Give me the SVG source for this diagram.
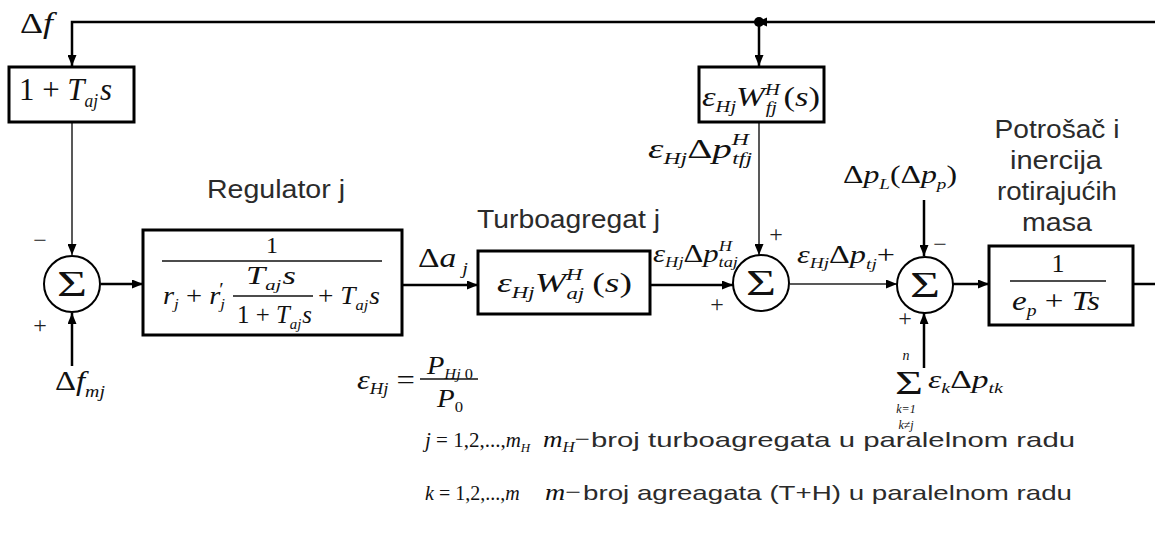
<svg xmlns="http://www.w3.org/2000/svg" width="1155" height="538" viewBox="0 0 1155 538">
<style>
.sans{font-family:"Liberation Sans",Arial,sans-serif;fill:#2b2b2b}
.m{font-family:"Liberation Serif","Times New Roman",serif;fill:#111}
.i{font-style:italic}
.box{fill:#fff;stroke:#000;stroke-width:3}
.sum{fill:#fff;stroke:#000;stroke-width:2}
.ln{stroke:#000;stroke-width:2.5;fill:none}
.th{stroke:#222;stroke-width:1.5;fill:none}
.fr{stroke:#111;stroke-width:1.4}
.sg{font-family:"Liberation Serif","Times New Roman",serif;fill:#222;font-size:24px;text-anchor:middle}
</style>
<defs>
<marker id="ar" markerUnits="userSpaceOnUse" markerWidth="11" markerHeight="9" refX="11" refY="4.5" orient="auto">
<path d="M0,0 L11,4.5 L0,9 z" fill="#000"/>
</marker>
</defs>
<rect width="1155" height="538" fill="#fff"/>

<g id="connectors">
<polyline class="ln" points="1155,22 72,22 72,66" marker-end="url(#ar)"/>
<line class="ln" x1="759" y1="22" x2="759" y2="66" marker-end="url(#ar)"/>
<circle cx="759" cy="22" r="5" fill="#000"/>
<path d="M757,22 L767,17.5 L767,26.5 z" fill="#000"/>
<line class="th" x1="72" y1="122" x2="72" y2="255" marker-end="url(#ar)"/>
<line class="ln" x1="72" y1="366" x2="72" y2="313" marker-end="url(#ar)"/>
<line class="ln" x1="101" y1="284" x2="143" y2="284" marker-end="url(#ar)"/>
<line class="ln" x1="402" y1="285" x2="478" y2="285" marker-end="url(#ar)"/>
<line class="ln" x1="650" y1="285" x2="733" y2="285" marker-end="url(#ar)"/>
<line class="th" x1="759" y1="122" x2="759" y2="255" marker-end="url(#ar)"/>
<line class="th" x1="790" y1="284" x2="897" y2="284" marker-end="url(#ar)"/>
<line class="ln" x1="924" y1="200" x2="924" y2="256" marker-end="url(#ar)"/>
<line class="ln" x1="924" y1="368" x2="924" y2="313" marker-end="url(#ar)"/>
<line class="ln" x1="953" y1="284" x2="989" y2="284" marker-end="url(#ar)"/>
<line class="ln" x1="1133" y1="284" x2="1155" y2="284"/>
</g>

<g id="label-df">
<text class="m" x="20" y="33" font-size="30" textLength="33" lengthAdjust="spacingAndGlyphs">Δ<tspan class="i">f</tspan></text>
</g>

<g id="node-derivative">
<rect class="box" x="9" y="67" width="125" height="55"/>
<text class="m" x="19" y="100" font-size="32" textLength="93" lengthAdjust="spacingAndGlyphs">1 + <tspan class="i">T</tspan><tspan class="i" font-size="18" dy="7">aj</tspan><tspan class="i" dy="-7" dx="2">s</tspan></text>
</g>

<g id="node-sum1">
<circle class="sum" cx="72" cy="284" r="28"/>
<text class="m" x="57" y="296" font-size="36" textLength="30" lengthAdjust="spacingAndGlyphs">Σ</text>
<text class="sg" x="40" y="248">−</text>
<text class="sg" x="40" y="333">+</text>
<text class="m" x="55" y="390" font-size="28" textLength="50" lengthAdjust="spacingAndGlyphs">Δ<tspan class="i">f</tspan><tspan class="i" font-size="17" dy="7">mj</tspan></text>
</g>

<g id="node-regulator">
<text class="sans" x="207" y="198" font-size="25" textLength="138" lengthAdjust="spacingAndGlyphs">Regulator j</text>
<rect class="box" x="143" y="230" width="259" height="105"/>
<text class="m" x="272" y="253" font-size="24" text-anchor="middle">1</text>
<line class="fr" x1="162" y1="261" x2="382" y2="261"/>
<text class="m" x="163" y="304" font-size="25" textLength="62" lengthAdjust="spacingAndGlyphs"><tspan class="i">r</tspan><tspan class="i" font-size="15" dy="5">j</tspan><tspan dy="-5"> + </tspan><tspan class="i">r</tspan><tspan class="i" font-size="15" dy="5">j</tspan><tspan font-size="18" dx="-5" dy="-13">′</tspan></text>
<text class="m" x="246" y="284" font-size="25" textLength="50" lengthAdjust="spacingAndGlyphs"><tspan class="i">T</tspan><tspan class="i" font-size="15" dy="6">aj</tspan><tspan class="i" dy="-6" dx="1">s</tspan></text>
<line class="fr" x1="233" y1="296" x2="313" y2="296"/>
<text class="m" x="237" y="323" font-size="25" textLength="75" lengthAdjust="spacingAndGlyphs">1 + <tspan class="i">T</tspan><tspan class="i" font-size="15" dy="6">aj</tspan><tspan class="i" dy="-6" dx="1">s</tspan></text>
<text class="m" x="318" y="304" font-size="25" textLength="62" lengthAdjust="spacingAndGlyphs">+ <tspan class="i">T</tspan><tspan class="i" font-size="15" dy="6">aj</tspan><tspan class="i" dy="-6" dx="1">s</tspan></text>
</g>

<g id="label-da">
<text class="m" x="418" y="267" font-size="28" textLength="50" lengthAdjust="spacingAndGlyphs">Δ<tspan class="i">a</tspan><tspan class="i" font-size="17" dx="5" dy="7">j</tspan></text>
</g>

<g id="label-eps">
<text class="m" x="357" y="389" font-size="28" textLength="58" lengthAdjust="spacingAndGlyphs"><tspan class="i">ε</tspan><tspan class="i" font-size="16" dy="5">Hj</tspan><tspan dy="-5"> =</tspan></text>
<text class="m" x="427" y="374" font-size="26" textLength="46" lengthAdjust="spacingAndGlyphs"><tspan class="i">P</tspan><tspan class="i" font-size="15" dy="5">Hj</tspan><tspan font-size="15"> 0</tspan></text>
<line class="fr" x1="420" y1="379" x2="478" y2="379"/>
<text class="m" x="437" y="407" font-size="26" textLength="26" lengthAdjust="spacingAndGlyphs"><tspan class="i">P</tspan><tspan font-size="15" dy="5">0</tspan></text>
</g>

<g id="node-turbo">
<text class="sans" x="477" y="228" font-size="25" textLength="183" lengthAdjust="spacingAndGlyphs">Turboagregat j</text>
<rect class="box" x="478" y="251" width="172" height="63"/>
<text class="m" x="497" y="292" font-size="28" textLength="135" lengthAdjust="spacingAndGlyphs"><tspan class="i">ε</tspan><tspan class="i" font-size="17" dy="6">Hj</tspan><tspan class="i" dy="-6">W</tspan><tspan class="i" font-size="17" dy="-12">H</tspan><tspan class="i" font-size="17" dx="-12" dy="19">aj</tspan><tspan dy="-7" dx="6">(</tspan><tspan class="i">s</tspan><tspan>)</tspan></text>
</g>

<g id="label-ptaj">
<text class="m" x="653" y="262" font-size="25" textLength="85" lengthAdjust="spacingAndGlyphs"><tspan class="i">ε</tspan><tspan class="i" font-size="15" dy="5">Hj</tspan><tspan dy="-5">Δ</tspan><tspan class="i">p</tspan><tspan class="i" font-size="15" dy="-11">H</tspan><tspan class="i" font-size="15" dx="-11" dy="16">taj</tspan></text>
</g>

<g id="node-wf">
<rect class="box" x="699" y="67" width="125" height="55"/>
<text class="m" x="702" y="106" font-size="27" textLength="118" lengthAdjust="spacingAndGlyphs"><tspan class="i">ε</tspan><tspan class="i" font-size="16" dy="6">Hj</tspan><tspan class="i" dy="-6">W</tspan><tspan class="i" font-size="16" dy="-11">H</tspan><tspan class="i" font-size="16" dx="-11" dy="18">fj</tspan><tspan dy="-7" dx="5">(</tspan><tspan class="i">s</tspan><tspan>)</tspan></text>
</g>

<g id="label-ptfj">
<text class="m" x="648" y="158" font-size="28" textLength="104" lengthAdjust="spacingAndGlyphs"><tspan class="i">ε</tspan><tspan class="i" font-size="17" dy="6">Hj</tspan><tspan dy="-6">Δ</tspan><tspan class="i">p</tspan><tspan class="i" font-size="17" dy="-13">H</tspan><tspan class="i" font-size="17" dx="-12" dy="19">tfj</tspan></text>
</g>

<g id="node-sum2">
<circle class="sum" cx="761" cy="283" r="28"/>
<text class="m" x="746" y="295" font-size="36" textLength="30" lengthAdjust="spacingAndGlyphs">Σ</text>
<text class="sg" x="776" y="242">+</text>
<text class="sg" x="717" y="312">+</text>
</g>

<g id="label-ptj">
<text class="m" x="797" y="263" font-size="25" textLength="98" lengthAdjust="spacingAndGlyphs"><tspan class="i">ε</tspan><tspan class="i" font-size="15" dy="5">Hj</tspan><tspan dy="-5">Δ</tspan><tspan class="i">p</tspan><tspan class="i" font-size="15" dy="6">tj</tspan><tspan dy="-6">+</tspan></text>
</g>

<g id="label-pl">
<text class="m" x="843" y="183" font-size="25" textLength="114" lengthAdjust="spacingAndGlyphs">Δ<tspan class="i">p</tspan><tspan class="i" font-size="15" dy="6">L</tspan><tspan dy="-6">(Δ</tspan><tspan class="i">p</tspan><tspan class="i" font-size="15" dy="6">p</tspan><tspan dy="-6">)</tspan></text>
</g>

<g id="node-sum3">
<circle class="sum" cx="925" cy="285" r="28"/>
<text class="m" x="910" y="297" font-size="36" textLength="30" lengthAdjust="spacingAndGlyphs">Σ</text>
<text class="sg" x="940" y="252">−</text>
<text class="sg" x="905" y="326">+</text>
</g>

<g id="label-sumk">
<text class="m i" x="906" y="360" font-size="14" text-anchor="middle">n</text>
<text class="m" x="895" y="394" font-size="33" textLength="28" lengthAdjust="spacingAndGlyphs">Σ</text>
<text class="m i" font-size="12" text-anchor="middle"><tspan x="906" y="413">k=1</tspan><tspan x="906" y="429">k≠j</tspan></text>
<text class="m" x="928" y="388" font-size="25" textLength="75" lengthAdjust="spacingAndGlyphs"><tspan class="i">ε</tspan><tspan class="i" font-size="15" dy="5">k</tspan><tspan dy="-5">Δ</tspan><tspan class="i">p</tspan><tspan class="i" font-size="15" dy="5">tk</tspan></text>
</g>

<g id="node-load">
<text class="sans" x="1057" y="138" font-size="25" text-anchor="middle" textLength="125" lengthAdjust="spacingAndGlyphs">Potrošač i</text>
<text class="sans" x="1056" y="169" font-size="25" text-anchor="middle" textLength="92" lengthAdjust="spacingAndGlyphs">inercija</text>
<text class="sans" x="1057" y="200" font-size="25" text-anchor="middle" textLength="120" lengthAdjust="spacingAndGlyphs">rotirajućih</text>
<text class="sans" x="1057" y="231" font-size="25" text-anchor="middle" textLength="70" lengthAdjust="spacingAndGlyphs">masa</text>
<rect class="box" x="989" y="246" width="144" height="79"/>
<text class="m" x="1058" y="272" font-size="26" text-anchor="middle">1</text>
<line class="fr" x1="1010" y1="281" x2="1106" y2="281"/>
<text class="m" x="1012" y="310" font-size="27" textLength="88" lengthAdjust="spacingAndGlyphs"><tspan class="i">e</tspan><tspan class="i" font-size="16" dy="6">p</tspan><tspan dy="-6"> + </tspan><tspan class="i">Ts</tspan></text>
</g>

<g id="legend">
<text class="m" x="425" y="447" font-size="21"><tspan class="i">j</tspan> = 1,2,...,<tspan class="i">m</tspan><tspan class="i" font-size="13" dy="5">H</tspan></text>
<text class="m" x="543" y="447" font-size="24" textLength="47" lengthAdjust="spacingAndGlyphs"><tspan class="i">m</tspan><tspan class="i" font-size="15" dy="5">H</tspan><tspan dy="-5">−</tspan></text>
<text class="sans" x="591" y="447" font-size="21" textLength="484" lengthAdjust="spacingAndGlyphs">broj turboagregata u paralelnom radu</text>
<text class="m" x="425" y="500" font-size="20"><tspan class="i">k</tspan> = 1,2,...,<tspan class="i">m</tspan></text>
<text class="m" x="545" y="500" font-size="24" textLength="36" lengthAdjust="spacingAndGlyphs"><tspan class="i">m</tspan>−</text>
<text class="sans" x="583" y="500" font-size="21" textLength="489" lengthAdjust="spacingAndGlyphs">broj agreagata (T+H) u paralelnom radu</text>
</g>
</svg>
